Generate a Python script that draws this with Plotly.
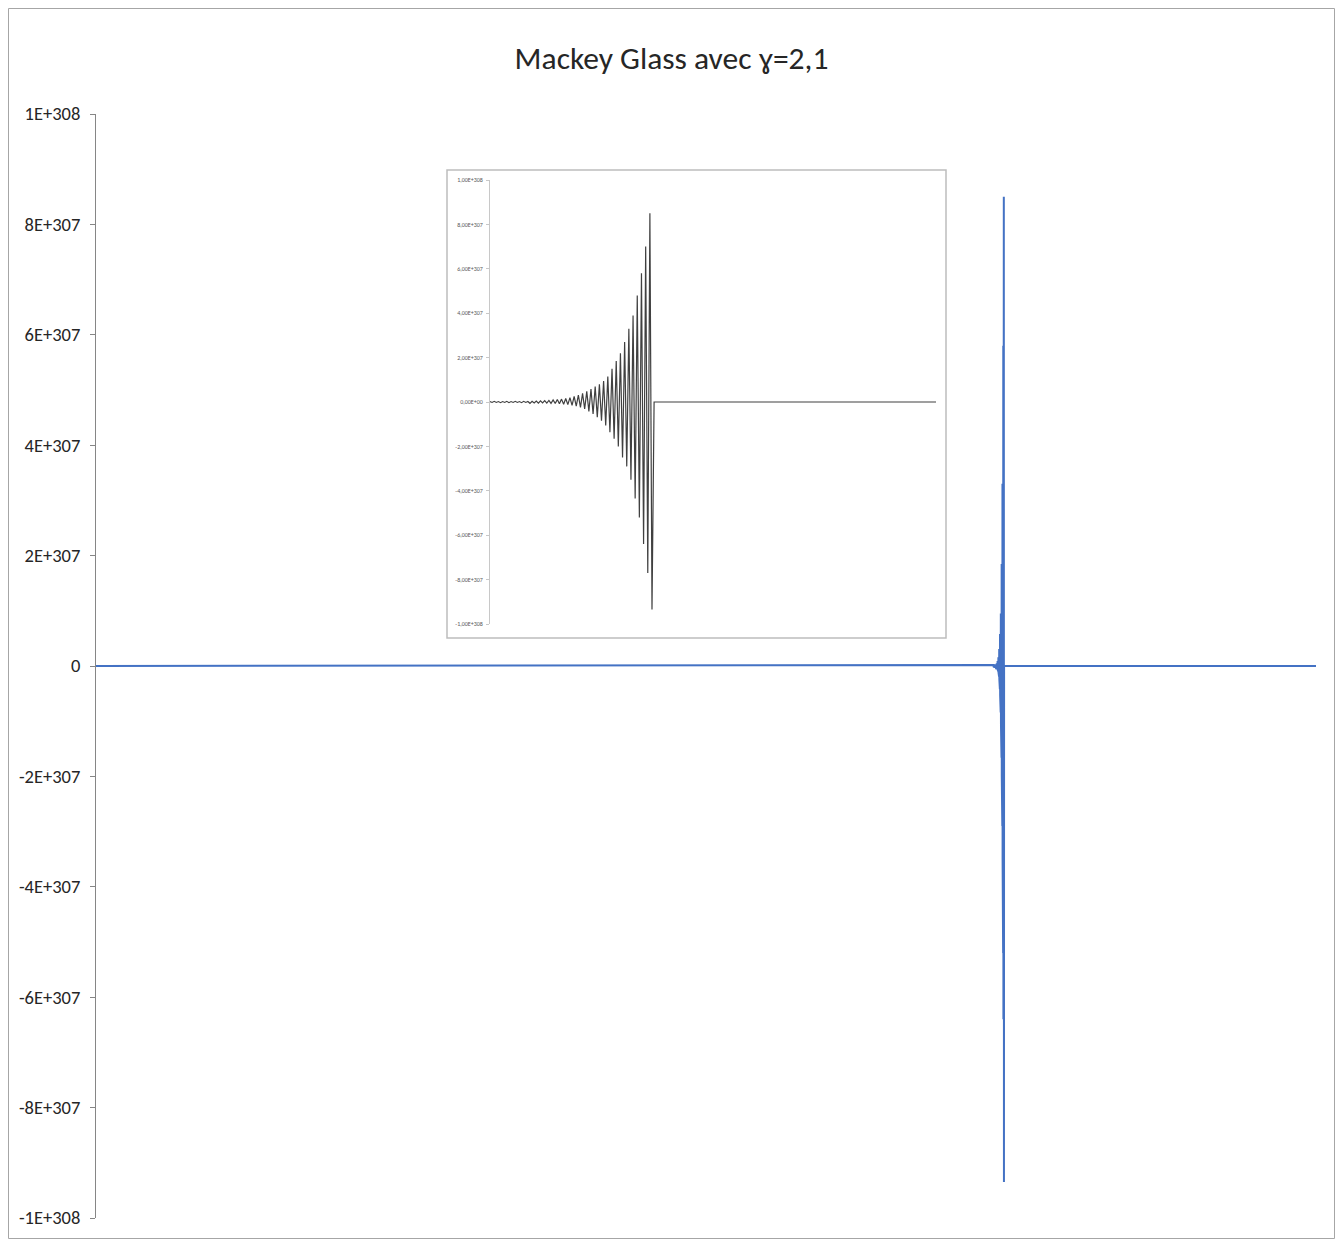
import plotly.graph_objects as go

# ---------------- data (values in units of 1E+307) ----------------
osc_values_e307 = [
    0.02, -0.02, 0.03, -0.02, 0.02, -0.03, 0.02, -0.02, 0.03, -0.03,
    0.02, -0.02, 0.03, -0.02, 0.02, -0.03, 0.03, -0.02, 0.02, -0.06,
    0.03, -0.04, 0.04, -0.05, 0.05, -0.04, 0.06, -0.05, 0.07, -0.06,
    0.09, -0.07, 0.11, -0.08, 0.13, -0.10, 0.16, -0.12, 0.20, -0.15,
    0.25, -0.19, 0.31, -0.24, 0.39, -0.31, 0.48, -0.42, 0.58, -0.54,
    0.70, -0.69, 0.80, -0.84, 0.95, -1.06, 1.15, -1.36, 1.50, -1.66,
    1.85, -2.00, 2.20, -2.50, 2.70, -2.90, 3.30, -3.50, 3.90, -4.35,
    4.80, -5.20, 5.80, -6.40, 7.00, -7.70, 8.50, -9.35,
]
post_overflow_value = 0.0
main_start_step = 6621
main_total_steps = 9000
inset_total_steps = 212

main_tick_vals = [10, 8, 6, 4, 2, 0, -2, -4, -6, -8, -10]
main_tick_text = ["1E+308", "8E+307", "6E+307", "4E+307", "2E+307", "0",
                  "-2E+307", "-4E+307", "-6E+307", "-8E+307", "-1E+308"]
inset_tick_text = ["1,00E+308", "8,00E+307", "6,00E+307", "4,00E+307", "2,00E+307",
                   "0,00E+00", "-2,00E+307", "-4,00E+307", "-6,00E+307",
                   "-8,00E+307", "-1,00E+308"]
title_text = "Mackey Glass avec ɣ=2,1"

n = len(osc_values_e307)
main_x = [0] + [main_start_step + i for i in range(n + 1)] + [main_total_steps]
main_y = [0.0] + osc_values_e307 + [post_overflow_value, post_overflow_value]
inset_x = list(range(n + 1)) + [inset_total_steps]
inset_y = osc_values_e307 + [post_overflow_value, post_overflow_value]

# ---------------- layout geometry ----------------
W, H = 1327, 1231
L, R, T, B = 88, 19, 106, 21
OFF = 8
PW = W - L - R
PH = H - T - B


def px(page_x):
    return (page_x - (OFF + L)) / PW


def py(page_y):
    return ((OFF + T + PH) - page_y) / PH


fig = go.Figure()
fig.add_trace(go.Scatter(x=main_x, y=main_y, mode="lines",
                         line=dict(color="#4472C4", width=2),
                         xaxis="x", yaxis="y", showlegend=False))
fig.add_trace(go.Scatter(x=inset_x, y=inset_y, mode="lines",
                         line=dict(color="#404040", width=1.2),
                         xaxis="x2", yaxis="y2", showlegend=False))

font_family = "Carlito, Calibri, 'Noto Sans', sans-serif"

fig.update_layout(
    width=W, height=H, autosize=False,
    margin=dict(l=L, r=R, t=T, b=B, pad=0),
    paper_bgcolor="white", plot_bgcolor="white",
    font=dict(family=font_family, color="#404040"),
    title=dict(text=title_text, x=0.5, xanchor="center", xref="container",
               y=1 - (58 - OFF) / H, yanchor="middle", yref="container",
               font=dict(size=31.5, color="#262626", family=font_family)),
    xaxis=dict(range=[0, main_total_steps], visible=False, showgrid=False,
               zeroline=False, domain=[0, 1], automargin=False),
    yaxis=dict(range=[-10, 10], tickmode="array", tickvals=main_tick_vals,
               ticktext=main_tick_text, showgrid=False, zeroline=False,
               showline=True, linecolor="#868686", linewidth=1,
               ticks="outside", ticklen=5, tickcolor="#868686",
               ticklabelstandoff=6, automargin=False,
               tickfont=dict(size=18.5, color="#262626", family=font_family)),
    xaxis2=dict(range=[0, inset_total_steps], domain=[px(490), px(936)],
                anchor="y2", visible=False, showgrid=False, zeroline=False,
                automargin=False),
    yaxis2=dict(range=[-10, 10], domain=[py(624), py(180)], anchor="x2",
                tickmode="array", tickvals=main_tick_vals, ticktext=inset_tick_text,
                showgrid=False, zeroline=False, showline=True,
                linecolor="#c8c8c8", linewidth=1, ticks="outside", ticklen=3,
                tickcolor="#c8c8c8", ticklabelstandoff=2, automargin=False,
                tickfont=dict(size=6, color="#595959", family=font_family)),
    shapes=[
        dict(type="rect", xref="paper", yref="paper",
             x0=px(447), x1=px(946), y0=py(638), y1=py(170),
             line=dict(color="#bdbdbd", width=1.5), fillcolor="white",
             layer="below"),
        dict(type="rect", xref="paper", yref="paper",
             x0=px(8.5), x1=px(1334.5), y0=py(1238.5), y1=py(8.5),
             line=dict(color="#a6a6a6", width=1), fillcolor="rgba(0,0,0,0)",
             layer="above"),
    ],
)

fig.write_html("out.html")
